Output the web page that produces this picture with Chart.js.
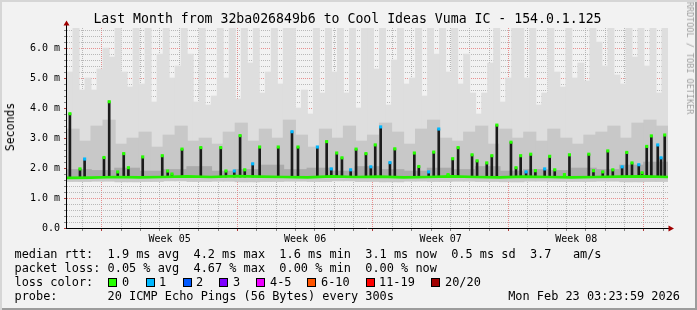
<!DOCTYPE html>
<html>
<head>
<meta charset="utf-8">
<script src="https://cdn.jsdelivr.net/npm/chart.js@4.4.1/dist/chart.umd.min.js"></script>
<style>
html, body { margin: 0; padding: 0; background: #f2f2f2; }
#wrap { position: relative; width: 697px; height: 310px; background: #f2f2f2; overflow: hidden;
        font-family: "DejaVu Sans Mono", monospace; color: #000; }
#frame { position: absolute; left: 0; top: 0; width: 697px; height: 310px; pointer-events: none;
         box-shadow: inset 2px 2px 0 #d6d6d6, inset -2px -2px 0 #9c9c9c; }
canvas { position: absolute; left: 0; top: 0; }
.t { position: absolute; white-space: pre; }
.leg { font-size: 11.9px; line-height: 14px; left: 14.5px; }
.box { position: absolute; width: 7px; height: 7px; border: 1px solid #000; }
</style>
</head>
<body>
<div id="wrap">
  <canvas id="myChart" width="697" height="310"></canvas>
  <div class="t" style="left:0;width:695px;text-align:center;top:11px;font-size:13.2px;">Last Month from 32ba026849b6 to Cool Ideas Vuma IC - 154.0.1.125</div>
  <div class="t" style="left:10px;top:127px;font-size:11.5px;transform:translate(-50%,-50%) rotate(-90deg);">Seconds</div>
  <div class="t" style="left:690px;top:58px;font-size:8.5px;color:#a0a0a0;transform:translate(-50%,-50%) rotate(90deg);">RRDTOOL / TOBI OETIKER</div>
  <div class="t leg" style="top:247px;">median rtt:  1.9 ms avg  4.2 ms max  1.6 ms min  3.1 ms now  0.5 ms sd  3.7   am/s</div>
  <div class="t leg" style="top:261px;">packet loss: 0.05 % avg  4.67 % max  0.00 % min  0.00 % now</div>
  <div class="t leg" style="top:275px;">loss color:</div>
  <div id="lossLegend"></div>
  <div class="t leg" style="top:289px;">probe:       20 ICMP Echo Pings (56 Bytes) every 300s</div>
  <div class="t leg" style="top:289px;left:auto;right:17px;">Mon Feb 23 03:23:59 2026</div>
  <div id="frame"></div>
</div>
<script>
// time axis in days from the left edge of the plot
const maxDay = 31.04;
const weekLabels = ['Week 05', 'Week 06', 'Week 07', 'Week 08'];
const weekCenters = [5.3, 12.3, 19.3, 26.3];
const weekStarts = [1.8, 8.8, 15.8, 22.8, 29.8];
const yMax = 6.667;
const yMajor = [0, 1, 2, 3, 4, 5, 6];
const yMajorLabels = ['0.0', '1.0 m', '2.0 m', '3.0 m', '4.0 m', '5.0 m', '6.0 m'];

// loss legend
const lossNames = ['0', '1', '2', '3', '4-5', '6-10', '11-19', '20/20'];
const lossColors = ['#26ff00', '#00b8ff', '#0059ff', '#7e00ff', '#ed00ff', '#ff5500', '#ff0000', '#a10000'];
const lossBoxX = [108, 146, 183, 219, 256, 307, 366, 431];
const lossTextX = [122, 159, 196, 233, 270, 321, 379, 445];

// smoke: outer range top (100 samples), inner range top (50), dense band top (25), lowest ping (25)
const smokeMax = [
  5.2, 6.7, 4.6, 5.0, 4.6, 5.3, 6.0, 5.7, 6.7, 5.2, 4.7, 6.7, 4.8, 6.7, 4.2, 5.8, 6.7, 5.0, 5.4, 6.7, 5.8, 4.2, 6.7, 4.1, 4.4,
  6.7, 5.0, 6.7, 4.3, 6.7, 5.5, 6.7, 4.5, 5.2, 6.7, 4.8, 6.7, 6.7, 4.0, 4.6, 3.8, 6.7, 4.5, 6.7, 5.2, 6.7, 4.5, 6.7, 4.0, 6.7,
  6.7, 5.3, 6.7, 4.1, 5.6, 6.7, 4.8, 5.0, 6.7, 4.4, 6.7, 5.8, 6.7, 5.2, 6.7, 4.8, 5.8, 4.5, 3.8, 4.5, 5.5, 6.7, 4.2, 5.0, 6.7,
  6.7, 5.0, 6.7, 4.1, 4.5, 6.7, 5.2, 4.7, 6.7, 5.0, 5.5, 4.9, 6.7, 6.2, 5.4, 6.7, 5.1, 4.8, 6.7, 5.7, 6.7, 5.4, 6.7, 4.5, 6.7
];
const smokeMid = [
  3.3, 2.9, 3.4, 3.6, 2.8, 3.0, 3.2, 2.7, 3.1, 3.4, 2.9, 3.0, 2.8,
  3.2, 3.5, 2.9, 3.3, 3.0, 3.6, 3.1, 2.7, 3.3, 3.0, 3.4, 2.9,
  3.1, 3.5, 3.2, 2.8, 3.3, 3.6, 3.0, 2.9, 3.2, 3.4, 2.8, 3.3, 3.0,
  3.2, 2.9, 3.3, 3.0, 2.8, 3.1, 3.2, 3.4, 3.0, 3.5, 3.6, 3.4
];
const smokeDense = [1.95, 1.92, 2.0, 1.9, 1.95, 2.05, 1.9, 1.95, 2.1, 1.95, 2.0, 1.9, 2.05, 1.95, 1.9, 2.0, 1.95, 2.05, 1.9, 1.95, 1.92, 2.0, 1.95, 2.1, 2.2];
const smokeMin = [1.55, 1.56, 1.54, 1.55, 1.57, 1.55, 1.56, 1.54, 1.55, 1.56, 1.55, 1.57, 1.55, 1.54, 1.56, 1.55, 1.56, 1.55, 1.54, 1.56, 1.55, 1.55, 1.56, 1.54, 1.55];
// median rtt baseline (26 points across the month)
const medianBase = [1.67, 1.68, 1.7, 1.69, 1.7, 1.72, 1.7, 1.73, 1.71, 1.7, 1.69, 1.72, 1.7, 1.71, 1.69, 1.7, 1.72, 1.7, 1.69, 1.71, 1.7, 1.69, 1.7, 1.71, 1.72, 1.7];

// median spikes: time (days), median (ms), loss class
const spikeDays = [0.15,0.67,0.91,1.91,2.18,2.62,2.93,3.17,3.91,4.92,5.20,5.42,5.94,6.91,7.94,8.21,8.64,8.94,9.18,9.59,
  9.95,10.91,11.62,11.93,12.93,13.41,13.65,13.93,14.20,14.65,14.93,15.44,15.69,15.92,16.20,16.68,16.93,17.94,18.17,18.68,
  18.94,19.20,19.68,19.92,20.20,20.92,21.18,21.68,21.94,22.20,22.93,23.19,23.43,23.71,23.95,24.19,24.67,24.93,25.19,25.69,
  25.95,26.95,27.19,27.67,27.93,28.19,28.67,28.91,29.18,29.53,29.70,29.94,30.18,30.51,30.68,30.87];
const spikeMs = [3.81,1.97,2.30,2.35,4.21,1.87,2.48,2.01,2.37,2.41,1.90,1.80,2.63,2.68,2.68,1.90,1.90,3.08,1.94,2.14,
  2.70,2.70,3.21,2.70,2.70,2.88,1.97,2.50,2.34,1.94,2.63,2.48,2.04,2.77,3.37,2.18,2.64,2.50,2.05,1.87,
  2.53,3.30,1.78,2.31,2.68,2.44,2.24,2.17,2.41,3.43,2.86,2.01,2.41,1.87,2.46,1.91,1.97,2.39,1.94,1.78,
  2.44,2.46,1.91,1.87,2.57,1.94,2.04,2.52,2.17,2.11,1.84,2.72,3.07,2.77,2.34,3.10];
const spikeLoss = [0,0,1,0,0,0,0,0,0,0, 0,0,0,0,0,0,1,0,0,1, 0,0,1,0,1,0,1,0,0,1, 0,0,1,0,1,1,0,0,0,1,
  0,1,0,0,0,0,0,0,0,0, 0,0,0,1,0,0,1,0,0,0, 0,0,0,0,0,0,1,0,0,1, 0,0,0,1,1,0];

// legend boxes
const lossLegend = document.getElementById('lossLegend');
lossNames.forEach(function (name, i) {
  const b = document.createElement('div');
  b.className = 'box';
  b.style.left = lossBoxX[i] + 'px';
  b.style.top = '278px';
  b.style.background = lossColors[i];
  lossLegend.appendChild(b);
  const t = document.createElement('div');
  t.className = 't leg';
  t.style.left = lossTextX[i] + 'px';
  t.style.top = '275px';
  t.textContent = name;
  lossLegend.appendChild(t);
});

// build chart data
const step100 = maxDay / smokeMax.length, step50 = maxDay / smokeMid.length, step25 = maxDay / smokeDense.length;
const lightData = smokeMax.map((v, i) => ({ x: (i + 0.5) * step100, y: [smokeMin[Math.floor(i / 4)], v] }));
const midData = smokeMid.map((v, i) => ({ x: (i + 0.5) * step50, y: [smokeMin[Math.floor(i / 2)], v] }));
const denseData = smokeDense.map((v, i) => ({ x: (i + 0.5) * step25, y: [medianBase[i], v] }));
const medianLine = medianBase.map((v, i) => ({ x: i * step25, y: v }));
const spikeBars = spikeDays.map((d, i) => ({ x: d, y: [1.7, spikeMs[i]] }));
const spikeDots = spikeDays.map((d, i) => ({ x: d, y: spikeMs[i] }));

const xTickValues = [];
for (let d = 0.8; d < maxDay; d += 1) xTickValues.push(Math.round(d * 10) / 10);
weekCenters.forEach(v => xTickValues.push(v));
xTickValues.sort((a, b) => a - b);
const yTickValues = [];
for (let i = 0; i <= 33; i++) yTickValues.push(Math.round(i * 2) / 10);

function isWeekStart(v) { return weekStarts.some(w => Math.abs(w - v) < 1e-6); }

const arrows = {
  id: 'arrows',
  afterDraw(chart) {
    const ctx = chart.ctx;
    ctx.save();
    ctx.strokeStyle = '#000';
    ctx.lineWidth = 1;
    ctx.beginPath();
    ctx.moveTo(66.5, 229);
    ctx.lineTo(66.5, 24);
    ctx.moveTo(66, 228.5);
    ctx.lineTo(669, 228.5);
    ctx.stroke();
    ctx.fillStyle = '#a00000';
    ctx.beginPath();
    ctx.moveTo(66.5, 20.5); ctx.lineTo(63.5, 25.5); ctx.lineTo(69.5, 25.5); ctx.closePath();
    ctx.fill();
    ctx.beginPath();
    ctx.moveTo(674, 228.5); ctx.lineTo(668.5, 225.5); ctx.lineTo(668.5, 231.5); ctx.closePath();
    ctx.fill();
    ctx.restore();
  }
};

Chart.defaults.font.family = "'DejaVu Sans Mono', monospace";
Chart.defaults.font.size = 10;
Chart.defaults.color = '#000';

const myChart = document.getElementById('myChart').getContext('2d');
const chart = new Chart(myChart, {
  type: 'bar',
  data: {
    datasets: [
      { type: 'bar', data: lightData, backgroundColor: '#dedede', barThickness: 6.3, grouped: false, order: 6 },
      { type: 'bar', data: midData, backgroundColor: '#c8c8c8', barThickness: 12.5, grouped: false, order: 5 },
      { type: 'bar', data: denseData, backgroundColor: '#ababab', barThickness: 25, grouped: false, order: 4 },
      { type: 'bar', data: spikeBars, backgroundColor: '#1c1c1c', barThickness: 2, grouped: false, order: 3 },
      { type: 'line', data: medianLine, borderColor: '#26f000', borderWidth: 2.7, pointRadius: 0, order: 2 },
      { type: 'scatter', data: spikeDots, pointStyle: 'rect', pointRadius: 2.2, borderWidth: 0,
        pointBackgroundColor: spikeLoss.map(k => lossColors[k]), order: 1 }
    ]
  },
  options: {
    responsive: false,
    animation: false,
    layout: { padding: { left: 0, top: 28, right: 29, bottom: 0 } },
    plugins: { legend: { display: false }, tooltip: { enabled: false } },
    scales: {
      x: {
        type: 'linear', min: 0, max: maxDay, offset: false, z: 1,
        afterFit(s) { s.height = 82; },
        afterBuildTicks(s) { s.ticks = xTickValues.map(v => ({ value: v })); },
        ticks: {
          autoSkip: false, maxRotation: 0, padding: 2,
          callback(v) { const k = weekCenters.indexOf(v); return k >= 0 ? weekLabels[k] : ''; }
        },
        grid: {
          offset: false, tickLength: 3,
          color(c) {
            const v = c.tick ? c.tick.value : 0;
            if (weekCenters.indexOf(v) >= 0) return 'rgba(0,0,0,0)';
            return isWeekStart(v) ? 'rgba(228,110,110,0.75)' : 'rgba(160,160,160,0.7)';
          },
          tickColor(c) {
            const v = c.tick ? c.tick.value : 0;
            if (weekCenters.indexOf(v) >= 0) return 'rgba(0,0,0,0)';
            return isWeekStart(v) ? '#b04040' : '#888';
          }
        },
        border: { display: false, dash: [1, 1] }
      },
      y: {
        min: 0, max: yMax, z: 1,
        afterFit(s) { s.width = 67; },
        afterBuildTicks(s) { s.ticks = yTickValues.map(v => ({ value: v })); },
        ticks: {
          autoSkip: false, padding: 4,
          callback(v) { const k = yMajor.indexOf(v); return k >= 0 ? yMajorLabels[k] : ''; }
        },
        grid: {
          tickLength: 3,
          color(c) {
            const v = c.tick ? c.tick.value : 0;
            if (v === 0) return 'rgba(0,0,0,0)';
            return yMajor.indexOf(v) >= 0 ? 'rgba(228,110,110,0.75)' : 'rgba(160,160,160,0.7)';
          },
          tickColor(c) {
            const v = c.tick ? c.tick.value : 0;
            return yMajor.indexOf(v) >= 0 ? '#b04040' : '#888';
          }
        },
        border: { display: false, dash: [1, 1] }
      }
    }
  },
  plugins: [arrows]
});
</script>
</body>
</html>
